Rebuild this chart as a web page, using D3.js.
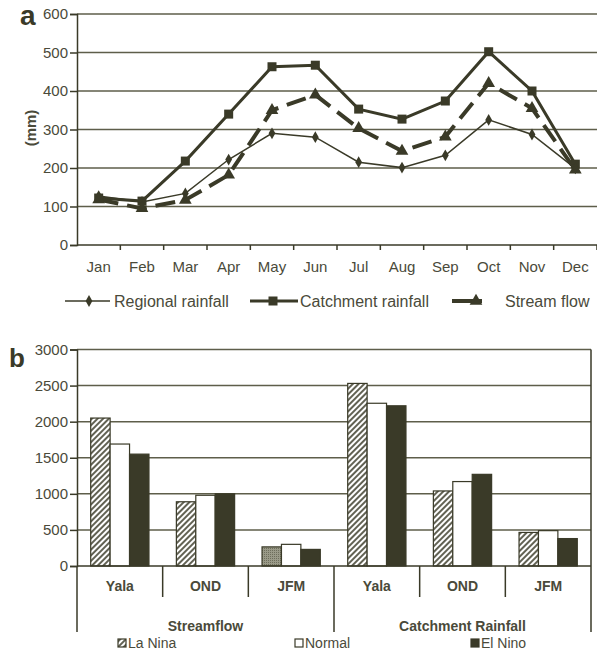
<!DOCTYPE html>
<html><head><meta charset="utf-8">
<script src="https://cdn.jsdelivr.net/npm/d3@7"></script>
<style>
html,body{margin:0;padding:0;background:#fff;}
svg{display:block;font-family:"Liberation Sans",Arial,Helvetica,sans-serif;}
</style></head>
<body><svg id="c" width="597" height="653"></svg>
<script>
// ---- Data: panel a ----
const months = ["Jan","Feb","Mar","Apr","May","Jun","Jul","Aug","Sep","Oct","Nov","Dec"];
const regionalRainfall = [127,112,134,222,290,280,215,201,233,325,287,199];
const catchmentRainfall = [122,114,218,340,463,467,353,327,374,502,400,210];
const streamFlow = [118,95,117,182,350,390,303,244,281,420,355,195];
const yTicksA = [0,100,200,300,400,500,600];

// ---- Data: panel b ----
const periods = ["Yala","OND","JFM","Yala","OND","JFM"];
const groupNames = ["Streamflow","Catchment Rainfall"];
const seriesB = ["La Nina","Normal","El Nino"];
const laNina = [2050,890,265,2530,1040,465];
const normal = [1690,980,300,2255,1170,490];
const elNino = [1550,1000,230,2220,1270,380];
const yTicksB = [0,500,1000,1500,2000,2500,3000];

const ink = "#3a3a28", grid = "#5e5e4a", txt = "#4a4a3a";
const svg = d3.select("#c");
const defs = svg.append("defs");
const hatch = defs.append("pattern").attr("id","hatch").attr("patternUnits","userSpaceOnUse")
  .attr("width",4).attr("height",4).attr("patternTransform","rotate(45)");
hatch.append("rect").attr("width",4).attr("height",4).attr("fill","#fff");
hatch.append("line").attr("x1",1).attr("x2",1).attr("y1",0).attr("y2",4).attr("stroke",ink).attr("stroke-width",1.6);
const stip = defs.append("pattern").attr("id","stip").attr("patternUnits","userSpaceOnUse").attr("width",2).attr("height",2);
stip.append("rect").attr("width",2).attr("height",2).attr("fill","#9a9a88");
stip.append("rect").attr("width",1).attr("height",1).attr("fill","#6e6e5c");

// ================= Panel a =================
const xA = d3.scaleBand().domain(months).range([77,597]);
const yA = d3.scaleLinear().domain([0,600]).range([245,14]);
const gA = svg.append("g");
gA.selectAll("line.grid").data(yTicksA.filter(d=>d>0)).join("line")
  .attr("x1",77).attr("x2",597).attr("y1",d=>yA(d)).attr("y2",d=>yA(d))
  .attr("stroke",grid).attr("stroke-width",1.5);
const axA = gA.append("g").attr("transform","translate(77,0)")
  .call(d3.axisLeft(yA).tickValues(yTicksA).tickFormat(d3.format("d")).tickSize(7).tickPadding(2));
axA.select(".domain").attr("stroke",ink).attr("stroke-width",1.5);
axA.selectAll(".tick line").attr("stroke",ink).attr("stroke-width",1.5);
axA.selectAll(".tick text").attr("fill",txt).attr("font-size",15).attr("font-family","Liberation Sans, Arial");
// x axis
gA.append("line").attr("x1",77).attr("x2",597).attr("y1",245).attr("y2",245).attr("stroke",ink).attr("stroke-width",1.5);
gA.selectAll("line.xt").data(months).join("line")
  .attr("x1",d=>xA(d)+xA.bandwidth()).attr("x2",d=>xA(d)+xA.bandwidth())
  .attr("y1",245).attr("y2",250).attr("stroke",ink).attr("stroke-width",1.5);
const axXA = gA.append("g").attr("transform","translate(0,245)")
  .call(d3.axisBottom(xA).tickSize(0).tickPadding(16));
axXA.select(".domain").remove();
axXA.selectAll("text").attr("fill",txt).attr("font-size",15).attr("font-family","Liberation Sans, Arial");

gA.append("text").attr("transform","translate(36,128) rotate(-90)").attr("text-anchor","middle")
  .attr("fill",txt).attr("font-size",15).attr("font-weight","bold").text("(mm)");
svg.append("text").attr("x",20).attr("y",25).attr("font-size",28).attr("font-weight","bold").attr("fill",ink).text("a");

const cx = d => xA(d) + xA.bandwidth()/2;
const line = d3.line().x((d,i)=>cx(months[i])).y(d=>yA(d));
// regional
gA.append("path").datum(regionalRainfall).attr("d",line).attr("fill","none").attr("stroke",ink).attr("stroke-width",1.5);
const diamond = d3.symbol().type(d3.symbolDiamond).size(40);
gA.selectAll("path.rd").data(regionalRainfall).join("path")
  .attr("transform",(d,i)=>`translate(${cx(months[i])},${yA(d)})`).attr("d",diamond).attr("fill",ink);
// catchment
gA.append("path").datum(catchmentRainfall).attr("d",line).attr("fill","none").attr("stroke",ink).attr("stroke-width",3);
gA.selectAll("rect.cs").data(catchmentRainfall).join("rect")
  .attr("x",(d,i)=>cx(months[i])-4.5).attr("y",d=>yA(d)-4.5).attr("width",9).attr("height",9).attr("fill",ink);
// stream flow
gA.append("path").datum(streamFlow).attr("d",line).attr("fill","none").attr("stroke",ink).attr("stroke-width",4)
  .attr("stroke-dasharray","20,9");
const tri = d3.symbol().type(d3.symbolTriangle).size(70);
gA.selectAll("path.st").data(streamFlow).join("path")
  .attr("transform",(d,i)=>`translate(${cx(months[i])},${yA(d)})`).attr("d",tri).attr("fill",ink);

// legend a
const lgA = svg.append("g").attr("font-size",16).attr("fill",txt);
lgA.append("line").attr("x1",65).attr("x2",110).attr("y1",301).attr("y2",301).attr("stroke",ink).attr("stroke-width",1.5);
lgA.append("path").attr("transform","translate(89,301)").attr("d",diamond).attr("fill",ink);
lgA.append("text").attr("x",114).attr("y",307).text("Regional rainfall");
lgA.append("line").attr("x1",250).attr("x2",298).attr("y1",301).attr("y2",301).attr("stroke",ink).attr("stroke-width",3);
lgA.append("rect").attr("x",268.5).attr("y",296.5).attr("width",9).attr("height",9).attr("fill",ink);
lgA.append("text").attr("x",300).attr("y",307).text("Catchment rainfall");
lgA.append("line").attr("x1",452).attr("x2",482).attr("y1",301).attr("y2",301).attr("stroke",ink).attr("stroke-width",4);
lgA.append("path").attr("transform","translate(476,301)").attr("d",tri).attr("fill",ink);
lgA.append("text").attr("x",505).attr("y",307).text("Stream flow");

// ================= Panel b =================
const idx = d3.range(periods.length);
const xB = d3.scaleBand().domain(idx).range([77,591]);
const bw = xB.bandwidth();
const x1 = d3.scaleBand().domain(seriesB).range([bw*0.16, bw*0.84]);
const yB = d3.scaleLinear().domain([0,3000]).range([566,349.5]);
const gB = svg.append("g");
gB.selectAll("line.grid").data(yTicksB.filter(d=>d>0)).join("line")
  .attr("x1",77).attr("x2",591).attr("y1",d=>yB(d)).attr("y2",d=>yB(d))
  .attr("stroke",grid).attr("stroke-width",1.5);
gB.append("line").attr("x1",591).attr("x2",591).attr("y1",yB(3000)).attr("y2",632).attr("stroke",ink).attr("stroke-width",1.5);
const axB = gB.append("g").attr("transform","translate(77,0)")
  .call(d3.axisLeft(yB).tickValues(yTicksB).tickFormat(d3.format("d")).tickSize(7).tickPadding(2));
axB.select(".domain").attr("stroke",ink).attr("stroke-width",1.5);
axB.selectAll(".tick line").attr("stroke",ink).attr("stroke-width",1.5);
axB.selectAll(".tick text").attr("fill",txt).attr("font-size",15).attr("font-family","Liberation Sans, Arial");
svg.append("text").attr("x",9).attr("y",367).attr("font-size",26).attr("font-weight","bold").attr("fill",ink).text("b");

const vals = [laNina, normal, elNino];
const fills = ["url(#hatch)","#fff",ink];
seriesB.forEach((s,si)=>{
  gB.selectAll("rect.s"+si).data(vals[si]).join("rect")
    .attr("x",(d,i)=>xB(i)+x1(s)).attr("width",x1.bandwidth())
    .attr("y",d=>yB(d)).attr("height",d=>yB(0)-yB(d))
    .attr("fill",(d,i)=> (si===0 && i===2) ? "url(#stip)" : fills[si])
    .attr("stroke",ink).attr("stroke-width",1.2);
});
// x axis line
gB.append("line").attr("x1",77).attr("x2",591).attr("y1",566).attr("y2",566).attr("stroke",ink).attr("stroke-width",1.5);
// separators
gB.selectAll("line.sep").data(idx).join("line")
  .attr("x1",i=>xB(i)).attr("x2",i=>xB(i)).attr("y1",566).attr("y2",i=> i%3===0 ? 632 : 597)
  .attr("stroke",ink).attr("stroke-width",1.5);
gB.selectAll("text.per").data(idx).join("text")
  .attr("x",i=>xB(i)+bw/2).attr("y",591).attr("text-anchor","middle")
  .attr("font-size",14).attr("font-weight","bold").attr("fill",txt).text(i=>periods[i]);
gB.selectAll("text.grp").data(groupNames).join("text")
  .attr("x",(d,g)=>xB(g*3)+bw*1.5).attr("y",631).attr("text-anchor","middle")
  .attr("font-size",14).attr("font-weight","bold").attr("fill",txt).text(d=>d);

// legend b
const lgB = svg.append("g").attr("font-size",14).attr("fill",txt);
const lpos = [118, 295, 471];
seriesB.forEach((s,si)=>{
  lgB.append("rect").attr("x",lpos[si]).attr("y",639).attr("width",8).attr("height",8)
    .attr("fill",fills[si]).attr("stroke",ink).attr("stroke-width",1.2);
  lgB.append("text").attr("x",lpos[si]+10).attr("y",648).text(s);
});
</script></body></html>
